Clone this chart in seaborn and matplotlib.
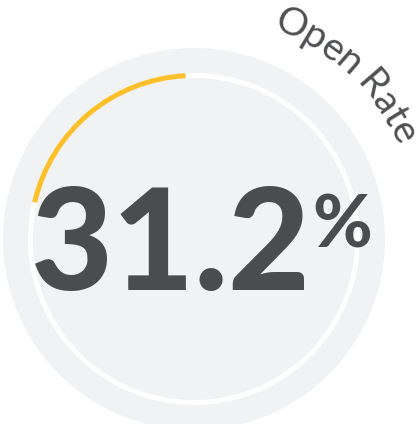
import numpy as np
import matplotlib
matplotlib.use("Agg")
import matplotlib.pyplot as plt
from matplotlib.patches import Circle, Wedge
from matplotlib.font_manager import FontProperties, findfont, get_font
import seaborn as sns

# chart content
metric_label = "Open Rate"
metric_value = "31.2"
metric_unit = "%"
# yellow progress arc as drawn in the picture (degrees, counterclockwise from +x)
arc_start_deg = 93
arc_end_deg = 167

W, H = 417, 424
sns.set_theme(style="white")
plt.rcParams['font.family'] = ['Lato', 'DejaVu Sans']

fig = plt.figure(figsize=(W / 100, H / 100), dpi=100)
ax = fig.add_axes([0, 0, 1, 1])
ax.set_xlim(0, W)
ax.set_ylim(0, H)
ax.axis('off')

cx, cy = 194, 185
ax.add_patch(Circle((cx, cy), 191, color='#f1f2f4', lw=0))
ax.add_patch(Wedge((cx, cy), 166, 0, 360, width=5, color='white', lw=0))
ax.add_patch(Wedge((cx, cy), 166, arc_start_deg, arc_end_deg, width=5,
                   color='#fdc02a', lw=0))

# big number
ax.text(31, 134, metric_value, fontsize=102, fontweight='black',
        color='#4b4c4e', ha='left', va='baseline')
ax.text(312, 176, metric_unit, fontsize=52, fontweight='black',
        color='#4b4c4e', ha='left', va='baseline')

# curved label along the top right
label_size = 28
fp = FontProperties(family='Lato', weight='normal', size=label_size)
font = get_font(findfont(fp))
font.set_size(label_size, 100)
advs = np.array([font.load_char(ord(c)).linearHoriAdvance / 65536.0
                 for c in metric_label])
r_mid = 234
r_base = 224
start = np.deg2rad(69.5)
centers = np.cumsum(advs) - advs / 2
for ch, s in zip(metric_label, centers):
    th = start - s / r_mid
    x = cx + r_base * np.cos(th)
    y = cy + r_base * np.sin(th)
    ax.text(x, y, ch, fontproperties=fp, color='#4f5052', ha='center',
            va='baseline', rotation=np.rad2deg(th) - 90,
            rotation_mode='anchor')

fig.savefig('out.png', dpi=100)
